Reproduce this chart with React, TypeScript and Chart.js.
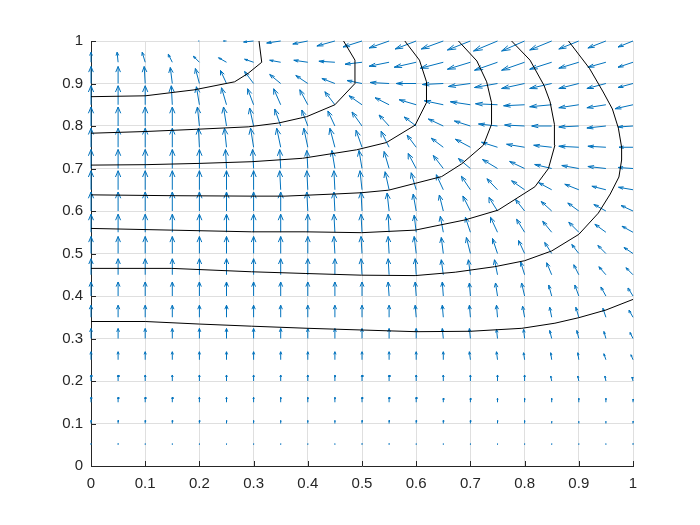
import React, { useEffect, useRef } from 'react';
import { Chart, registerables } from 'chart.js';

Chart.register(...registerables);

// Quiver grid (x and y positions of the arrow tails)
const X_GRID = [0, 0.05, 0.1, 0.15, 0.2, 0.25, 0.3, 0.35, 0.4, 0.45, 0.5, 0.55, 0.6, 0.65, 0.7, 0.75, 0.8, 0.85, 0.9, 0.95, 1];
const Y_GRID = [0, 0.05, 0.1, 0.15, 0.2, 0.25, 0.3, 0.35, 0.4, 0.45, 0.5, 0.55, 0.6, 0.65, 0.7, 0.75, 0.8, 0.85, 0.9, 0.95, 1];

// Horizontal field component, one row per Y_GRID value (bottom to top)
const U = [
  [0, 0, 0, 0, 0, 0, 0, 0, 0, 0, 0, 0, 0, 0, 0, 0, 0, 0, 0, 0, 0],
  [0, 0, 0, 0, 0, 0, 0, 0, 0, 0, 0, 0, 0, 0, 0, 0, 0, 0, 0, 0, 0],
  [0, 0, 0, 0, 0, 0, 0, 0, 0, 0, 0, 0, 0, 0, 0, 0, 0, 0, 0, 0, 0],
  [0, 0, 0, 0, 0, 0, 0, 0, 0, 0, 0, 0, 0, 0, 0, 0, 0, 0, 0, 0, 0],
  [0, 0, 0, 0, 0, 0, 0, 0, 0, 0, 0, 0, 0, 0, 0, 0, 0, -1, -1, -1, -1],
  [0, 0, 0, 0, 0, 0, 0, 0, 0, 0, 0, 0, 0, 0, -1, -1, -1, -1, -1, -2, -2],
  [0, 0, 0, 0, 0, 0, 0, 0, 0, 0, 0, 0, 0, -1, -1, -1, -1, -2, -2, -2, -3],
  [0, 0, 0, 0, 0, 0, 0, 0, 0, 0, 0, 0, -1, -1, -1, -1, -2, -2, -3, -3, -4],
  [0, 0, 0, 0, 0, 0, 0, 0, 0, 0, 0, -1, -1, -1, -1, -2, -3, -3, -4, -5, -5],
  [0, 0, 0, 0, 0, 0, 0, 0, 0, 0, -1, -1, -1, -2, -2, -3, -4, -5, -5, -7, -7],
  [0, 0, 0, 0, 0, 0, 0, 0, 0, -1, -1, -1, -2, -2, -4, -5, -6, -7, -7, -8, -9],
  [0, 0, 0, 0, 0, 0, 0, 0, 0, -1, -1, -1, -2, -3, -5, -7, -8, -9, -10, -11, -11],
  [0, 0, 0, 0, 0, 0, 0, 0, -1, -1, -1, -2, -3, -4, -7.5, -8.5, -9, -10.5, -11, -12, -12],
  [0, 0, 0, 0, 0, 0, 0, -1, -1, -1, -2, -4, -5, -7, -9, -10.5, -13, -13, -14, -14, -14.5],
  [0, 0, 0, 0, 0, -1, -1, -1, -1, -3, -3, -5, -8, -10, -12, -15, -15, -17, -17, -18, -15],
  [0, 0, 0, 0, -1, -2, -3, -4, -4, -5, -6, -8, -9, -12, -15, -16, -18, -18, -20, -18, -14],
  [0, 0, 0, 0, -2, -3, -4, -6, -6, -7, -10, -10, -12, -15, -16, -19, -20, -20, -20, -19, -15],
  [0, 0, 0, -1, -3, -5, -6, -7, -8, -10, -13, -14, -17, -19, -20, -22, -21, -22, -20, -19, -18],
  [0, 0, -1, -2, -4, -6, -9, -11, -12, -13, -15, -19, -20, -21, -22, -23, -23, -22, -20, -19, -15],
  [0, -1, -3, -4, -6, -8, -9, -11, -14, -16, -17, -20, -22, -23, -23, -23, -23, -22, -20, -18, -15],
  [0, 0, 0, 0, -1, -3, -10, -14, -15, -18, -19, -20, -21, -22, -23, -24, -23, -22, -20, -18, -15],
];

// Vertical field component, one row per Y_GRID value (bottom to top)
const V = [
  [0, 0, 0, 0, 0, 0, 0, 0, 0, 0, 0, 0, 0, 0, 0, 0, 0, 0, 0, 0, 0],
  [1, 1, 1, 1, 1, 1, 1, 1, 1, 1, 1, 1, 1, 1, 1, 1, 1, 1, 1, 1, 1],
  [3, 3, 3, 3, 3, 3, 3, 3, 3, 3, 3, 3, 3, 3, 3, 3, 3, 2, 2, 2, 2],
  [5, 5, 5, 5, 5, 5, 5, 5, 5, 5, 5, 5, 5, 4, 4, 4, 4, 4, 4, 4, 3],
  [6, 6, 6, 6, 6, 6, 6, 6, 6, 6, 6, 6, 6, 6, 6, 6, 6, 5, 5, 5, 4],
  [8, 8, 8, 8, 8, 8, 8, 8, 8, 8, 8, 8, 8, 8, 8, 8, 7, 7, 7, 6, 5],
  [10, 10, 10, 10, 10, 10, 10, 10, 10, 10, 10, 10, 10, 10, 10, 9, 9, 8, 8, 7, 6],
  [12, 12, 12, 12, 12, 12, 12, 12, 12, 12, 12, 12, 12, 12, 12, 12, 11, 10, 10, 9, 7],
  [14, 14, 14, 14, 14, 14, 14, 14, 14, 14, 14, 14, 14, 14, 13, 13, 13, 11, 11, 9, 8],
  [16, 16, 16, 16, 16, 16, 16, 16, 16, 16, 16, 16, 16, 15, 15, 15, 13, 12, 10, 8, 7],
  [17, 17, 17, 17, 17, 17, 17, 17, 17, 17, 17, 17, 17, 16, 16, 15, 13, 11, 9, 8, 6],
  [18, 18, 18, 18, 18, 18, 18, 18, 18, 18, 18, 18, 17, 16, 15, 15, 13, 11, 10, 8, 6],
  [19, 19, 19, 19, 19, 19, 19, 19, 19, 19, 19, 18, 17, 16, 15, 13.5, 11.5, 9.5, 8, 6.5, 5.5],
  [19, 19, 19, 19, 19, 19, 19, 19, 19, 19, 19, 18, 17, 15, 13.5, 11, 9, 7, 5.5, 3.5, 2.5],
  [19, 19, 19, 19, 19, 19, 19, 19, 18, 18, 18, 17, 15, 13, 10, 9, 7, 4, 3, 2, 1],
  [19, 19, 19, 19, 19, 19, 19, 19, 19, 19, 17, 16, 12, 9, 8, 5, 3, 2, 1, 1, 0],
  [19, 19, 19, 19, 19, 19, 18, 17, 16, 15, 14, 11, 9, 7, 5, 2, 1, 0, -1, -2, -1],
  [19, 19, 19, 19, 18, 17, 16, 16, 15, 13, 9, 7, 5, 4, 3, 1, -1, -2, -3, -3, -4],
  [17, 17, 17, 16, 15, 13, 12, 9, 8, 5, 3, 1, 0, -1, -3, -4, -5, -5, -5, -5, -4],
  [10, 10, 10, 8, 6, 4.5, 3, 2, 2, 1, -2, -4, -5, -6, -7, -8, -8, -7, -6, -5, -5],
  [0, 0, 0, 0, 0, 0, -1, -2, -3, -5, -6, -7, -8, -8, -9, -10, -10, -9, -8, -7, -6],
];

// Contour lines as [x, y] vertices
const CONTOUR_1 = [[0, 0.869], [0.1, 0.871], [0.19, 0.885], [0.265, 0.904], [0.29, 0.924], [0.315, 0.95], [0.31, 1.0]];
const CONTOUR_2 = [[0, 0.783], [0.1, 0.787], [0.19, 0.792], [0.29, 0.798], [0.346, 0.807], [0.398, 0.822], [0.45, 0.85], [0.487, 0.9], [0.487, 0.955], [0.466, 1.0]];
const CONTOUR_3 = [[0, 0.708], [0.1, 0.709], [0.2, 0.712], [0.297, 0.716], [0.39, 0.724], [0.49, 0.744], [0.545, 0.761], [0.598, 0.802], [0.619, 0.855], [0.619, 0.904], [0.606, 0.955], [0.579, 1.0]];
const CONTOUR_4 = [[0, 0.638], [0.15, 0.636], [0.296, 0.635], [0.358, 0.635], [0.45, 0.64], [0.499, 0.643], [0.549, 0.649], [0.598, 0.665], [0.647, 0.681], [0.684, 0.711], [0.724, 0.755], [0.739, 0.804], [0.739, 0.855], [0.73, 0.904], [0.712, 0.953], [0.678, 1.0]];
const CONTOUR_5 = [[0, 0.559], [0.149, 0.555], [0.296, 0.551], [0.395, 0.551], [0.499, 0.549], [0.598, 0.555], [0.69, 0.579], [0.751, 0.602], [0.819, 0.657], [0.844, 0.7], [0.856, 0.755], [0.855, 0.804], [0.847, 0.857], [0.836, 0.895], [0.81, 0.955], [0.776, 1.0]];
const CONTOUR_6 = [[0, 0.465], [0.149, 0.465], [0.296, 0.457], [0.395, 0.453], [0.499, 0.449], [0.598, 0.448], [0.672, 0.456], [0.745, 0.469], [0.8, 0.483], [0.85, 0.506], [0.9, 0.545], [0.936, 0.595], [0.958, 0.64], [0.974, 0.68], [0.979, 0.72], [0.979, 0.75], [0.973, 0.795], [0.962, 0.84], [0.945, 0.88], [0.92, 0.935], [0.881, 1.0]];
const CONTOUR_7 = [[0, 0.34], [0.1, 0.34], [0.2, 0.334], [0.296, 0.329], [0.4, 0.324], [0.5, 0.32], [0.6, 0.316], [0.7, 0.317], [0.795, 0.324], [0.856, 0.336], [0.9, 0.349], [0.95, 0.367], [1.0, 0.392]];
const CONTOURS = [CONTOUR_1, CONTOUR_2, CONTOUR_3, CONTOUR_4, CONTOUR_5, CONTOUR_6, CONTOUR_7];

const X_TICK_LABELS = ['0', '0.1', '0.2', '0.3', '0.4', '0.5', '0.6', '0.7', '0.8', '0.9', '1'];
const Y_TICK_LABELS = ['0', '0.1', '0.2', '0.3', '0.4', '0.5', '0.6', '0.7', '0.8', '0.9', '1'];

// quiver auto-scale (field units -> axis units) and arrow-head shape
const QUIVER_SX = 0.001845;
const QUIVER_SY = 0.002353;
const HEAD_ALPHA = 0.33;
const HEAD_BETA = 0.33;

const ARROW_COLOR = '#0072BD';
const AXIS_COLOR = '#262626';
const GRID_COLOR = '#dfdfdf';
const FONT = { family: "'Liberation Sans', Arial, Helvetica, sans-serif", size: 15 };

function buildArrows() {
  const pts: { x: number; y: number }[] = [];
  for (let j = 0; j < Y_GRID.length; j++) {
    for (let i = 0; i < X_GRID.length; i++) {
      const u = U[j][i] * QUIVER_SX;
      const v = V[j][i] * QUIVER_SY;
      if (u === 0 && v === 0) continue;
      const x = X_GRID[i];
      const y = Y_GRID[j];
      const tx = x + u;
      const ty = y + v;
      pts.push({ x, y }, { x: tx, y: ty }, { x: NaN, y: NaN });
      pts.push(
        { x: tx - HEAD_ALPHA * (u + HEAD_BETA * v), y: ty - HEAD_ALPHA * (v - HEAD_BETA * u) },
        { x: tx, y: ty },
        { x: tx - HEAD_ALPHA * (u - HEAD_BETA * v), y: ty - HEAD_ALPHA * (v + HEAD_BETA * u) },
        { x: NaN, y: NaN }
      );
    }
  }
  return pts;
}

const inwardTicks = {
  id: 'inwardTicks',
  afterDatasetsDraw(chart: any) {
    const { ctx, chartArea, scales } = chart;
    const xs = scales.x;
    const ys = scales.y;
    ctx.save();
    ctx.strokeStyle = AXIS_COLOR;
    ctx.lineWidth = 1;
    ctx.beginPath();
    xs.ticks.forEach((t: any) => {
      const px = Math.round(xs.getPixelForValue(t.value)) + 0.5;
      ctx.moveTo(px, chartArea.bottom);
      ctx.lineTo(px, chartArea.bottom - 5);
    });
    ys.ticks.forEach((t: any) => {
      const py = Math.round(ys.getPixelForValue(t.value)) + 0.5;
      ctx.moveTo(chartArea.left, py);
      ctx.lineTo(chartArea.left + 5, py);
    });
    ctx.stroke();
    ctx.restore();
  },
};

export default function App() {
  const ref = useRef<HTMLCanvasElement | null>(null);

  useEffect(() => {
    if (!ref.current) return;
    const contourSets = CONTOURS.map((c, k) => ({
      label: 'contour ' + (k + 1),
      data: c.map(([x, y]) => ({ x, y })),
      showLine: true,
      borderColor: '#000000',
      borderWidth: 1,
      pointRadius: 0,
      fill: false,
      tension: 0,
      order: 0,
      clip: 2,
    }));
    const arrowSet = {
      label: 'quiver',
      data: buildArrows(),
      showLine: true,
      spanGaps: false,
      borderColor: ARROW_COLOR,
      borderWidth: 1,
      pointRadius: 0,
      fill: false,
      tension: 0,
      order: 1,
      clip: 4,
    };

    const chart = new Chart(ref.current, {
      type: 'scatter',
      data: { datasets: [...contourSets, arrowSet] as any },
      options: {
        animation: false,
        responsive: false,
        devicePixelRatio: 1,
        events: [],
        layout: { padding: { left: 0, top: 41, right: 67, bottom: 0 } },
        plugins: { legend: { display: false }, tooltip: { enabled: false } },
        scales: {
          x: {
            type: 'linear',
            min: 0,
            max: 1,
            afterFit: (s: any) => { s.height = 59; },
            ticks: {
              stepSize: 0.1,
              autoSkip: false,
              maxRotation: 0,
              padding: 9,
              color: AXIS_COLOR,
              font: FONT,
              callback: (_v: any, i: number) => X_TICK_LABELS[i],
            },
            grid: { color: GRID_COLOR, drawTicks: false, lineWidth: 1 },
            border: { color: AXIS_COLOR, width: 1 },
          },
          y: {
            type: 'linear',
            min: 0,
            max: 1,
            afterFit: (s: any) => { s.width = 91; },
            ticks: {
              stepSize: 0.1,
              autoSkip: false,
              padding: 8,
              color: AXIS_COLOR,
              font: FONT,
              callback: (_v: any, i: number) => Y_TICK_LABELS[i],
            },
            grid: { color: GRID_COLOR, drawTicks: false, lineWidth: 1 },
            border: { color: AXIS_COLOR, width: 1 },
          },
        },
      },
      plugins: [inwardTicks],
    });
    return () => chart.destroy();
  }, []);

  return (
    <div style={{ position: 'fixed', left: 0, top: 0, width: 700, height: 525, background: '#ffffff' }}>
      <canvas ref={ref} width={700} height={525} />
    </div>
  );
}
